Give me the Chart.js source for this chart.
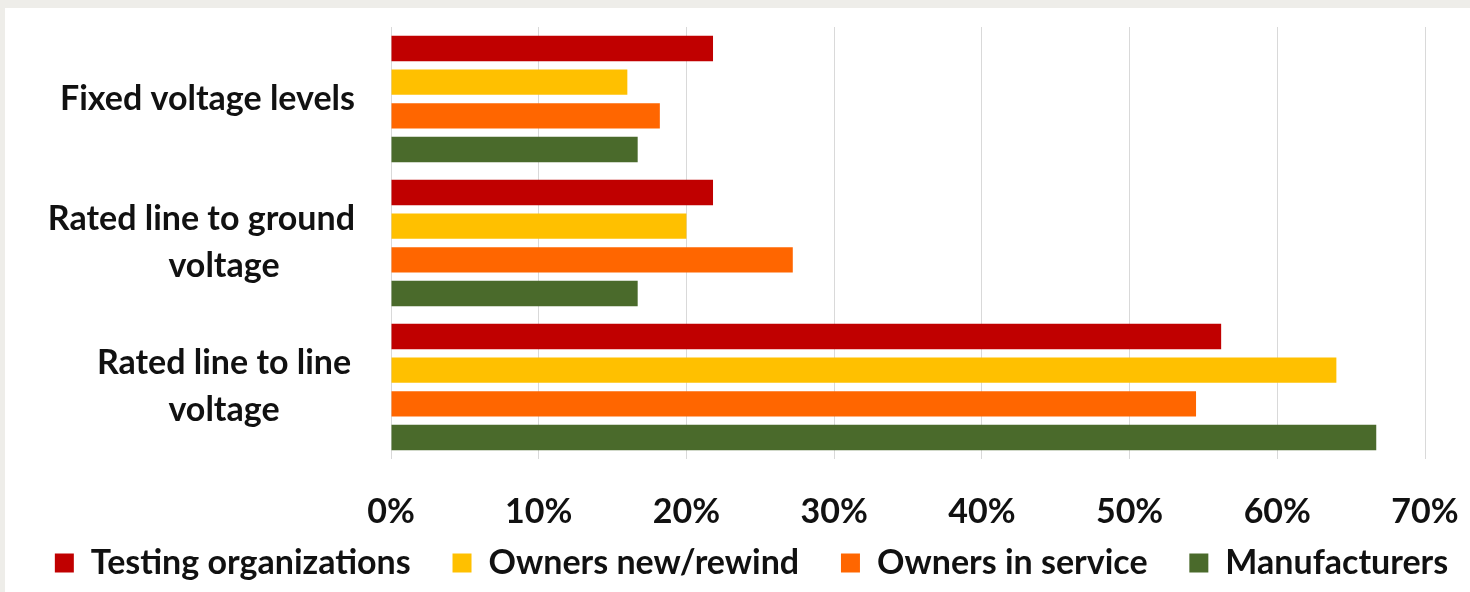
<!DOCTYPE html>
<html>
<head>
<meta charset="utf-8">
<script src="https://cdn.jsdelivr.net/npm/chart.js@4"></script>
<style>
  html, body { margin: 0; padding: 0; width: 1470px; height: 592px; background: #eeede9; overflow: hidden; }
  #frame { position: absolute; left: 5px; top: 8px; width: 1465px; height: 584px; background: #ffffff; }
</style>
</head>
<body>
<div id="frame"><canvas id="chart"></canvas></div>
<script>
// Categories (top to bottom), each split into its wrapped lines
const categories = [
  ['Fixed voltage levels'],
  ['Rated line to ground', 'voltage'],
  ['Rated line to line', 'voltage']
];

// Share of respondents per group, in percent
const testingOrganizations = [21.8, 21.8, 56.2];
const ownersNewRewind      = [16.0, 20.0, 64.0];
const ownersInService      = [18.2, 27.2, 54.5];
const manufacturers        = [16.7, 16.7, 66.7];

const seriesNames = ['Testing organizations', 'Owners new/rewind', 'Owners in service', 'Manufacturers'];
const seriesColors = ['#c00000', '#ffc000', '#ff6600', '#4a6a2b'];
const xTicks = [0, 10, 20, 30, 40, 50, 60, 70];

const FONT = 'Lato, "Open Sans", sans-serif';
const FONT_SIZE = 34;
const TEXT = '#111111';

// Category labels: first line flush to the axis gap, extra lines centred in the label box
const categoryLabels = {
  id: 'categoryLabels',
  afterDraw(chart) {
    const { ctx, chartArea, scales } = chart;
    const y = scales.y;
    const right = chartArea.left - 36;
    const boxCenter = right - 131;
    const lineGap = 47;
    ctx.save();
    ctx.font = 'bold ' + FONT_SIZE + 'px ' + FONT;
    ctx.fillStyle = TEXT;
    ctx.textAlign = 'center';
    ctx.textBaseline = 'middle';
    categories.forEach((lines, i) => {
      const cy = y.getPixelForValue(i);
      const y0 = cy - (lines.length - 1) * lineGap / 2;
      lines.forEach((line, k) => {
        const w = ctx.measureText(line).width;
        const cx = Math.min(boxCenter, right - w / 2);
        ctx.fillText(line, cx, y0 + k * lineGap);
      });
    });
    ctx.restore();
  }
};

const datasets = [testingOrganizations, ownersNewRewind, ownersInService, manufacturers]
  .map((values, i) => ({ label: seriesNames[i], data: values, backgroundColor: seriesColors[i] }));

new Chart(document.getElementById('chart'), {
  type: 'bar',
  data: { labels: categories, datasets },
  options: {
    indexAxis: 'y',
    responsive: true,
    maintainAspectRatio: false,
    animation: false,
    categoryPercentage: 0.937,
    barPercentage: 0.755,
    layout: { padding: { left: 28, right: 0, top: 19, bottom: 2 } },
    scales: {
      x: {
        min: 0,
        max: 70,
        border: { display: false },
        grid: { color: '#d9d9d9', lineWidth: 1, drawTicks: false },
        afterBuildTicks(scale) { scale.ticks = xTicks.map(v => ({ value: v })); },
        afterFit(scale) {
          scale.height = 70;
          scale.paddingLeft = 0;
          scale.paddingRight = 0;
        },
        ticks: {
          padding: 38,
          color: TEXT,
          font: { family: FONT, size: FONT_SIZE, weight: 'bold', lineHeight: 30 / 34 },
          callback: v => v + '%'
        }
      },
      y: {
        border: { display: false },
        grid: { display: false },
        ticks: { display: false },
        afterFit(scale) { scale.width = 358; }
      },
      // empty right-hand margin beside the plot
      yMargin: {
        type: 'category',
        position: 'right',
        border: { display: false },
        grid: { display: false },
        ticks: { display: false },
        afterFit(scale) { scale.width = 45; }
      }
    },
    plugins: {
      legend: {
        position: 'bottom',
        labels: {
          boxWidth: 19,
          boxHeight: 19,
          padding: 17,
          color: TEXT,
          font: { family: FONT, size: FONT_SIZE, weight: 'bold' },
          generateLabels(chart) {
            const items = Chart.defaults.plugins.legend.labels.generateLabels(chart);
            items.forEach((item, i) => { if (i < items.length - 1) item.text += '   '; });
            return items;
          }
        }
      },
      tooltip: { enabled: false }
    }
  },
  plugins: [categoryLabels]
});
</script>
</body>
</html>
